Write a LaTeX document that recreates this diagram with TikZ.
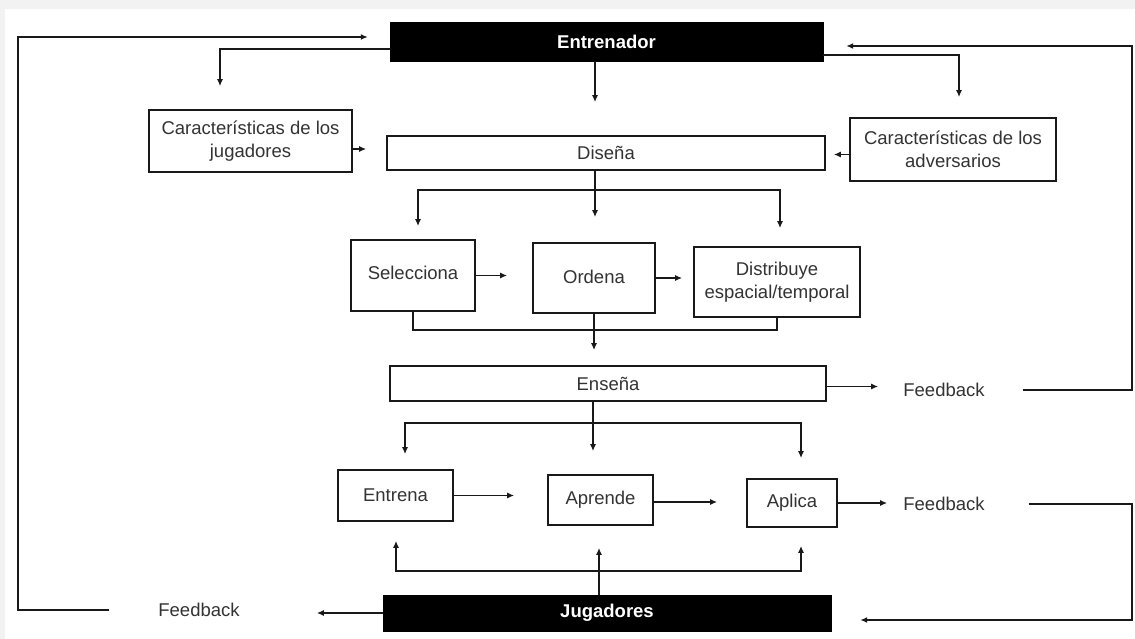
\documentclass[tikz,border=0pt]{standalone}
\usepackage{fontspec}
\setmainfont{Liberation Sans}
\usetikzlibrary{arrows.meta,calc}
\begin{document}
\begin{tikzpicture}[x=1pt,y=-1pt,
  every node/.style={font=\fontsize{18.5}{23}\selectfont, text=black!80},
  box/.style={draw=black!90, line width=1.7pt, inner sep=0pt, align=center},
  dark/.style={fill=black, draw=black, inner sep=0pt, text=white, font=\fontsize{18.5}{23}\selectfont\bfseries},
  sz/.style 2 args={minimum width=#1pt, minimum height=#2pt},
  lbl/.style={inner sep=0pt},
  conn/.style={draw=black!90, line width=1.9pt},
  arr/.style={conn, -{Latex[length=7pt,width=6pt]}},
]
\fill[black!5] (0,0) rectangle (1135,639);
\fill[white] (5,9) rectangle (1135,639);
\useasboundingbox (0,0) rectangle (1135,639);

% nodes
\node[dark, sz={433}{39}] (ent) at (606.5,41.5) {Entrenador};
\node[box, sz={203}{62}] (cj) at (250.5,141) {Características de los\\jugadores};
\node[box, sz={438}{34}] (dis) at (606,153) {Diseña};
\node[box, sz={206}{63}] (ca) at (953,149.5) {Características de los\\adversarios};
\node[box, sz={124}{71}, text depth=5pt] (sel) at (413,275.5) {Selecciona};
\node[box, sz={122}{70}, text depth=3pt] (ord) at (594,278) {Ordena};
\node[box, sz={166}{70}] (dist) at (777,282) {\raisebox{-4pt}{\parbox{160pt}{\centering Distribuye\\espacial/temporal}}};
\node[box, sz={436}{35}] (ens) at (608,383.5) {Enseña};
\node[box, sz={115}{51}] (entr) at (395.5,495.5) {Entrena};
\node[box, sz={105}{50}] (apr) at (600.5,500) {Aprende};
\node[box, sz={90}{48}] (apl) at (792,503) {Aplica};
\node[dark, sz={448}{36}] (jug) at (607,613) {Jugadores};
\node[lbl] (fb1) at (944,390) {Feedback};
\node[lbl] (fb2) at (944,504) {Feedback};
\node[lbl] (fb3) at (199,610) {Feedback};

% helper coordinates
\coordinate (lt) at (18,37);
\coordinate (rt) at (1132,46);
\coordinate (rb) at (1132,620);
\coordinate (e1) at (220,49);
\coordinate (e2) at (959,55);
\coordinate (h1) at (595,190);
\coordinate (hl) at (418,190);
\coordinate (hr) at (780,190);
\coordinate (b1) at (593,330);
\coordinate (h2) at (593,423);
\coordinate (h2l) at (405,423);
\coordinate (h2r) at (801,423);
\coordinate (h3) at (599,571);
\coordinate (h3l) at (396,571);
\coordinate (h3r) at (801,571);

% outer feedback loops
\draw[arr, shorten <=49pt, shorten >=22pt] (fb3.west) -| (lt) -- (lt -| ent.west);
\draw[arr, shorten >=77pt] (jug.west) -- (jug.west -| fb3.east);
\draw[arr, shorten <=38pt, shorten >=23pt] (fb1.east) -| (rt) -- (rt -| ent.east);
\draw[arr, shorten <=44pt, shorten >=29pt] (fb2.east) -| (rb) -- (rb -| jug.east);
\draw[arr, shorten >=25pt] ([yshift=-3pt]ens.east) -- ([yshift=-3pt]ens.east -| fb1.west);
\draw[arr, shorten >=16pt] (apl.east) -- (apl.east -| fb2.west);

% from Entrenador
\draw[arr, shorten >=23pt] (e1 -| ent.west) -- (e1) -- (e1 |- cj.north);
\draw[arr, shorten >=33pt] (ent.south -| h1) -- (h1 |- dis.north);
\draw[arr, shorten >=20pt] (e2 -| ent.east) -- (e2) -- (e2 |- ca.north);
\draw[arr, shorten >=20pt] ([yshift=-8pt]cj.east) -- ([yshift=-8pt]cj.east -| dis.west);
\draw[arr, shorten >=8pt] ([yshift=-5pt]ca.west) -- ([yshift=-5pt]ca.west -| dis.east);

% Diseña
\draw[conn] (dis.south -| h1) -- (h1);
\draw[arr, shorten >=13pt] (h1) -| (hl |- sel.north);
\draw[arr, shorten >=25pt] (h1) -- (h1 |- ord.north);
\draw[arr, shorten >=18pt] (h1) -| (hr |- dist.north);
\draw[arr, shorten >=25pt] (sel.east) -- (sel.east -| ord.west);
\draw[arr, shorten >=11pt] (ord.east) -- (ord.east -| dist.west);
\draw[conn] (sel.south) |- (b1) -| (dist.south);
\draw[arr, shorten >=15pt] (ord.south) -- (ord.south |- ens.north);

% Enseña
\draw[conn] (ens.south -| h2) -- (h2);
\draw[arr, shorten >=15pt] (h2) -| (h2l |- entr.north);
\draw[arr, shorten >=23pt] (h2) -- (h2 |- apr.north);
\draw[arr, shorten >=20pt] (h2) -| (h2r |- apl.north);
\draw[arr, shorten >=33pt] (entr.east) -- (entr.east -| apr.west);
\draw[arr, shorten >=29pt] ([yshift=-2pt]apr.east) -- ([yshift=-2pt]apr.east -| apl.west);

% Jugadores
\draw[conn] (jug.north -| h3) -- (h3);
\draw[arr, shorten >=22pt] (h3) -- (h3 |- apr.south);
\draw[arr, shorten >=19pt] (h3) -| (h3l |- entr.south);
\draw[arr, shorten >=18pt] (h3) -| (h3r |- apl.south);
\end{tikzpicture}
\end{document}
